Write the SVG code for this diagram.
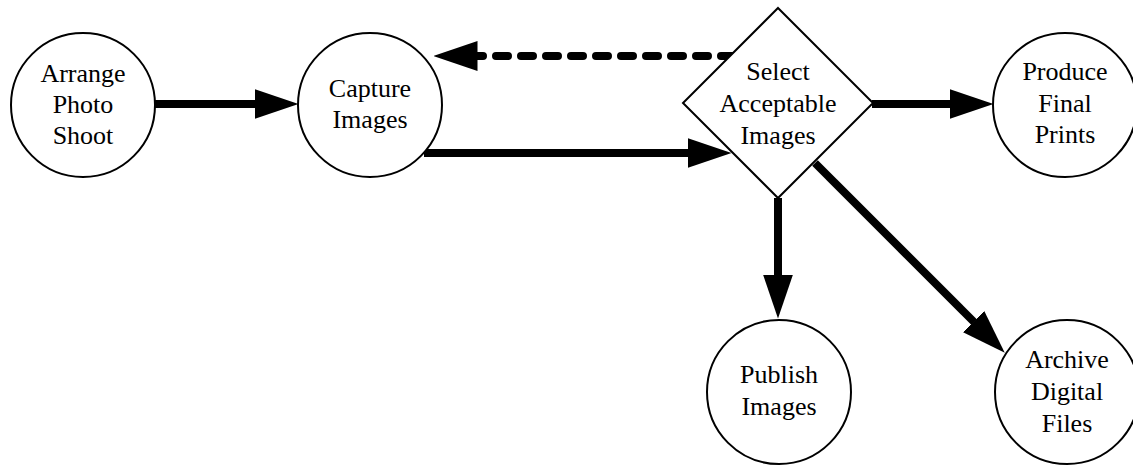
<svg xmlns="http://www.w3.org/2000/svg" width="1133" height="465" viewBox="0 0 1133 465">
<style>
.node{fill:#fff;stroke:#000;stroke-width:2}
.lbl{font-family:"Liberation Serif","Times New Roman",serif;font-size:26px;text-anchor:middle;fill:#000}
.edge{stroke:#000;stroke-width:8;fill:none}
</style>
<defs>
<marker id="ah" viewBox="0 0 44 30" refX="0.5" refY="15" markerWidth="44" markerHeight="30" markerUnits="userSpaceOnUse" orient="auto">
<path d="M0,0 L44,15 L0,30 z" fill="#000"/>
</marker>
</defs>
<rect width="1133" height="465" fill="#fff"/>
<g id="connectors">
<line class="edge" x1="155" y1="104" x2="255" y2="104" stroke-linecap="round" marker-end="url(#ah)"/>
<line class="edge" x1="424" y1="153" x2="688" y2="153" marker-end="url(#ah)"/>
<line class="edge" x1="733" y1="56" x2="477" y2="56" stroke-dasharray="12 13" stroke-linecap="round" marker-end="url(#ah)"/>
<line class="edge" x1="872" y1="104" x2="950" y2="104" marker-end="url(#ah)"/>
<line class="edge" x1="778" y1="198" x2="778" y2="275" marker-end="url(#ah)"/>
<line class="edge" x1="815" y1="163" x2="974" y2="322" marker-end="url(#ah)"/>
</g>
<g id="arrange">
<circle class="node" cx="83" cy="105" r="72"/>
<text class="lbl"><tspan x="83" y="82">Arrange</tspan><tspan x="83" y="113">Photo</tspan><tspan x="83" y="144">Shoot</tspan></text>
</g>
<g id="capture">
<circle class="node" cx="370" cy="105" r="72"/>
<text class="lbl"><tspan x="370" y="97">Capture</tspan><tspan x="370" y="128">Images</tspan></text>
</g>
<g id="select">
<polygon class="node" points="778,8 873,103 778,198 683,103"/>
<text class="lbl"><tspan x="778" y="80">Select</tspan><tspan x="778" y="112">Acceptable</tspan><tspan x="778" y="144">Images</tspan></text>
</g>
<g id="produce">
<circle class="node" cx="1065" cy="105" r="72"/>
<text class="lbl"><tspan x="1065" y="80">Produce</tspan><tspan x="1065" y="112">Final</tspan><tspan x="1065" y="143">Prints</tspan></text>
</g>
<g id="publish">
<circle class="node" cx="779" cy="392" r="72"/>
<text class="lbl"><tspan x="779" y="383">Publish</tspan><tspan x="779" y="415">Images</tspan></text>
</g>
<g id="archive">
<circle class="node" cx="1067" cy="392" r="72"/>
<text class="lbl"><tspan x="1067" y="368">Archive</tspan><tspan x="1067" y="400">Digital</tspan><tspan x="1067" y="432">Files</tspan></text>
</g>
</svg>
